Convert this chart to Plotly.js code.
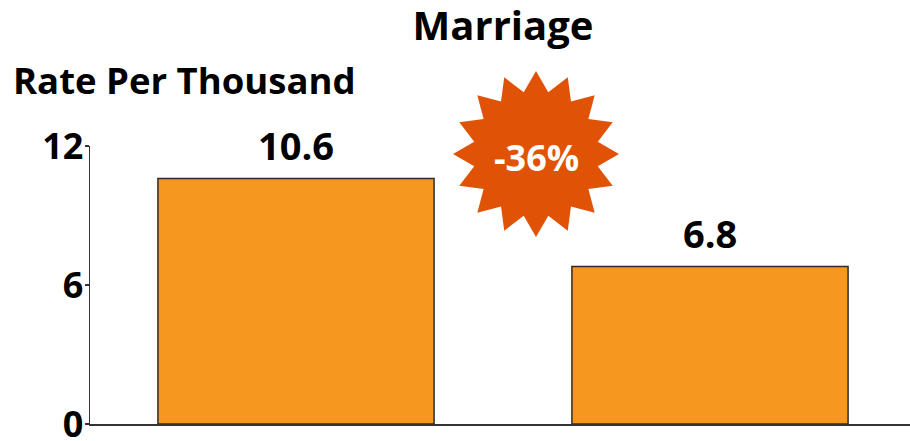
<!DOCTYPE html>
<html>
<head>
<meta charset="utf-8">
<script src="https://cdn.plot.ly/plotly-3.0.1.min.js"></script>
<style>html,body{margin:0;padding:0;background:#fff;}#chart{width:910px;height:441px;}</style>
</head>
<body>
<div id="chart"></div>
<script>
// ---- data ----
const categories = ["Before", "After"];
const rates = [10.6, 6.8];
const yTicks = [0, 6, 12];
const chartTitle = "Marriage";
const yLabel = "Rate Per Thousand";

// ---- styles / layout constants ----
const W = 910, H = 441;
const M = {l: 90, r: 0, t: 146, b: 17};
const FONT = "Open Sans, Liberation Sans, sans-serif";
const barColor = "#F7981E";
const burstColor = "#E05206";
const xIdx = categories.map((_, i) => i);

const change = Math.round((rates[1] - rates[0]) / rates[0] * 100);

// starburst in pixel space -> paper coords
const pw = W - M.l - M.r, ph = H - M.t - M.b;
const cx = 536, cy = 154, Ro = 83, Ri = 63, N = 16;
let path = "";
for (let k = 0; k < 2 * N; k++) {
  const ang = -Math.PI / 2 + k * Math.PI / N;
  const r = k % 2 === 0 ? Ro : Ri;
  const px = cx + r * Math.cos(ang), py = cy + r * Math.sin(ang);
  const xp = (px - M.l) / pw, yp = (H - M.b - py) / ph;
  path += (k === 0 ? "M" : "L") + xp.toFixed(5) + "," + yp.toFixed(5);
}
path += "Z";

const trace = {
  type: "bar",
  x: xIdx,
  y: rates,
  width: 0.667,
  marker: {color: barColor, line: {color: "#2b2b2b", width: 1.5}},
  hoverinfo: "skip"
};

const annotations = rates.map((v, i) => ({
  x: i, y: v, xref: "x", yref: "y",
  text: v.toFixed(1), showarrow: false,
  yanchor: "bottom", yshift: 5,
  font: {family: FONT, size: 38, color: "#000", weight: 700}
}));
annotations.push({
  xref: "paper", yref: "paper",
  x: (11 - M.l) / pw, xanchor: "left",
  y: (H - M.b - 80) / ph, yanchor: "middle",
  text: yLabel, showarrow: false,
  font: {family: FONT, size: 36.5, color: "#000", weight: 700}
});
annotations.push({
  xref: "paper", yref: "paper",
  x: (cx - M.l) / pw, xanchor: "center",
  y: (H - M.b - cy - 3) / ph, yanchor: "middle",
  text: change + "%", showarrow: false,
  font: {family: FONT, size: 36, color: "#fff", weight: 700}
});

const layout = {
  width: W, height: H,
  margin: M,
  paper_bgcolor: "#fff", plot_bgcolor: "#fff",
  showlegend: false,
  title: {
    text: chartTitle,
    x: 503 / W, xanchor: "center", xref: "container",
    y: 1 - 26 / H, yanchor: "middle", yref: "container",
    font: {family: FONT, size: 40, color: "#000", weight: 700}
  },
  xaxis: {
    range: [(M.l - 296) / 414, (W - M.r - 296) / 414],
    showticklabels: false, ticks: "", showgrid: false, zeroline: false,
    showline: true, linecolor: "#333", linewidth: 1.5,
    fixedrange: true
  },
  yaxis: {
    range: [0, 12],
    tickvals: yTicks, ticktext: yTicks.map(String),
    ticks: "outside", ticklen: 4, tickwidth: 1.2, tickcolor: "#333",
    ticklabelstandoff: -6, ticklabeloverflow: "allow",
    showgrid: false, zeroline: false,
    showline: true, linecolor: "#333", linewidth: 1.5,
    tickfont: {family: FONT, size: 36, color: "#000", weight: 700},
    fixedrange: true
  },
  shapes: [{
    type: "path", xref: "paper", yref: "paper", path: path,
    fillcolor: burstColor, line: {width: 0}, layer: "above"
  }],
  annotations: annotations
};

Plotly.newPlot("chart", [trace], layout, {displayModeBar: false, staticPlot: true});
</script>
</body>
</html>
